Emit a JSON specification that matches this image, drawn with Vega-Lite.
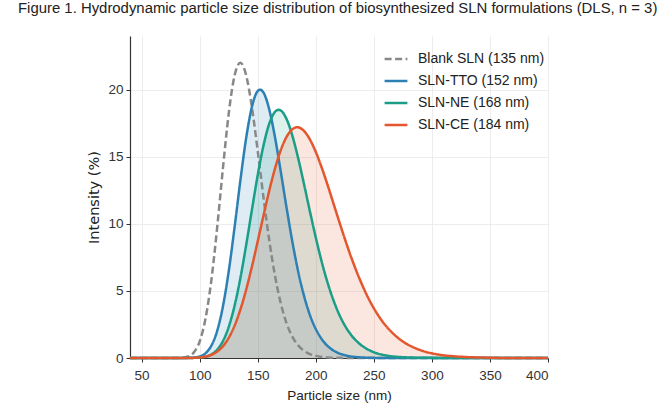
{
  "$schema": "https://vega.github.io/schema/vega-lite/v6.json",
  "width": 418,
  "height": 322,
  "autosize": {"type": "none"},
  "padding": {"left": 130, "top": 36, "right": 110, "bottom": 56},
  "background": "white",
  "title": {
    "text": "Figure 1. Hydrodynamic particle size distribution of biosynthesized SLN formulations (DLS, n = 3)",
    "anchor": "start",
    "frame": "group",
    "dx": -112,
    "offset": 8,
    "baseline": "alphabetic",
    "font": "Liberation Sans",
    "fontSize": 14.9,
    "fontWeight": "normal",
    "color": "#222222"
  },
  "config": {
    "view": {"stroke": null},
    "axis": {
      "domainColor": "#333333",
      "domainWidth": 1.2,
      "tickColor": "#333333",
      "tickSize": 4,
      "tickWidth": 1,
      "labelColor": "#333333",
      "labelFont": "Liberation Sans",
      "labelFontSize": 13.5,
      "titleColor": "#222222",
      "titleFontWeight": "normal",
      "gridColor": "#e8e8e8",
      "gridWidth": 0.8
    },
    "legend": {
      "labelFont": "Liberation Sans",
      "labelFontSize": 14,
      "labelColor": "#222222"
    }
  },
  "datasets": {
    "dls": [
      {"f": "Blank SLN (135 nm)", "x": 40, "y": 0},
      {"f": "Blank SLN (135 nm)", "x": 60, "y": 0},
      {"f": "Blank SLN (135 nm)", "x": 80, "y": 0},
      {"f": "Blank SLN (135 nm)", "x": 85, "y": 0.02},
      {"f": "Blank SLN (135 nm)", "x": 90, "y": 0.11},
      {"f": "Blank SLN (135 nm)", "x": 95, "y": 0.42},
      {"f": "Blank SLN (135 nm)", "x": 100, "y": 1.23},
      {"f": "Blank SLN (135 nm)", "x": 105, "y": 2.92},
      {"f": "Blank SLN (135 nm)", "x": 110, "y": 5.75},
      {"f": "Blank SLN (135 nm)", "x": 115, "y": 9.66},
      {"f": "Blank SLN (135 nm)", "x": 120, "y": 14.11},
      {"f": "Blank SLN (135 nm)", "x": 125, "y": 18.2},
      {"f": "Blank SLN (135 nm)", "x": 127.5, "y": 19.82},
      {"f": "Blank SLN (135 nm)", "x": 130, "y": 21.02},
      {"f": "Blank SLN (135 nm)", "x": 132.5, "y": 21.76},
      {"f": "Blank SLN (135 nm)", "x": 135, "y": 22},
      {"f": "Blank SLN (135 nm)", "x": 137.5, "y": 21.76},
      {"f": "Blank SLN (135 nm)", "x": 140, "y": 21.09},
      {"f": "Blank SLN (135 nm)", "x": 142.5, "y": 20.03},
      {"f": "Blank SLN (135 nm)", "x": 145, "y": 18.69},
      {"f": "Blank SLN (135 nm)", "x": 150, "y": 15.43},
      {"f": "Blank SLN (135 nm)", "x": 155, "y": 11.95},
      {"f": "Blank SLN (135 nm)", "x": 160, "y": 8.74},
      {"f": "Blank SLN (135 nm)", "x": 165, "y": 6.07},
      {"f": "Blank SLN (135 nm)", "x": 170, "y": 4.02},
      {"f": "Blank SLN (135 nm)", "x": 175, "y": 2.55},
      {"f": "Blank SLN (135 nm)", "x": 180, "y": 1.56},
      {"f": "Blank SLN (135 nm)", "x": 185, "y": 0.92},
      {"f": "Blank SLN (135 nm)", "x": 190, "y": 0.53},
      {"f": "Blank SLN (135 nm)", "x": 195, "y": 0.29},
      {"f": "Blank SLN (135 nm)", "x": 200, "y": 0.16},
      {"f": "Blank SLN (135 nm)", "x": 205, "y": 0.08},
      {"f": "Blank SLN (135 nm)", "x": 210, "y": 0.04},
      {"f": "Blank SLN (135 nm)", "x": 220, "y": 0.01},
      {"f": "Blank SLN (135 nm)", "x": 240, "y": 0},
      {"f": "Blank SLN (135 nm)", "x": 300, "y": 0},
      {"f": "Blank SLN (135 nm)", "x": 400, "y": 0},

      {"f": "SLN-TTO (152 nm)", "x": 40, "y": 0},
      {"f": "SLN-TTO (152 nm)", "x": 80, "y": 0},
      {"f": "SLN-TTO (152 nm)", "x": 90, "y": 0.01},
      {"f": "SLN-TTO (152 nm)", "x": 95, "y": 0.03},
      {"f": "SLN-TTO (152 nm)", "x": 100, "y": 0.11},
      {"f": "SLN-TTO (152 nm)", "x": 105, "y": 0.35},
      {"f": "SLN-TTO (152 nm)", "x": 110, "y": 0.91},
      {"f": "SLN-TTO (152 nm)", "x": 115, "y": 2.0},
      {"f": "SLN-TTO (152 nm)", "x": 120, "y": 3.83},
      {"f": "SLN-TTO (152 nm)", "x": 125, "y": 6.45},
      {"f": "SLN-TTO (152 nm)", "x": 130, "y": 9.7},
      {"f": "SLN-TTO (152 nm)", "x": 135, "y": 13.19},
      {"f": "SLN-TTO (152 nm)", "x": 140, "y": 16.37},
      {"f": "SLN-TTO (152 nm)", "x": 145, "y": 18.72},
      {"f": "SLN-TTO (152 nm)", "x": 150, "y": 19.9},
      {"f": "SLN-TTO (152 nm)", "x": 152, "y": 20},
      {"f": "SLN-TTO (152 nm)", "x": 155, "y": 19.78},
      {"f": "SLN-TTO (152 nm)", "x": 160, "y": 18.5},
      {"f": "SLN-TTO (152 nm)", "x": 165, "y": 16.39},
      {"f": "SLN-TTO (152 nm)", "x": 170, "y": 13.81},
      {"f": "SLN-TTO (152 nm)", "x": 175, "y": 11.12},
      {"f": "SLN-TTO (152 nm)", "x": 180, "y": 8.58},
      {"f": "SLN-TTO (152 nm)", "x": 185, "y": 6.38},
      {"f": "SLN-TTO (152 nm)", "x": 190, "y": 4.59},
      {"f": "SLN-TTO (152 nm)", "x": 195, "y": 3.19},
      {"f": "SLN-TTO (152 nm)", "x": 200, "y": 2.16},
      {"f": "SLN-TTO (152 nm)", "x": 205, "y": 1.42},
      {"f": "SLN-TTO (152 nm)", "x": 210, "y": 0.91},
      {"f": "SLN-TTO (152 nm)", "x": 215, "y": 0.57},
      {"f": "SLN-TTO (152 nm)", "x": 220, "y": 0.35},
      {"f": "SLN-TTO (152 nm)", "x": 225, "y": 0.21},
      {"f": "SLN-TTO (152 nm)", "x": 230, "y": 0.12},
      {"f": "SLN-TTO (152 nm)", "x": 235, "y": 0.07},
      {"f": "SLN-TTO (152 nm)", "x": 240, "y": 0.04},
      {"f": "SLN-TTO (152 nm)", "x": 250, "y": 0.01},
      {"f": "SLN-TTO (152 nm)", "x": 270, "y": 0},
      {"f": "SLN-TTO (152 nm)", "x": 400, "y": 0},

      {"f": "SLN-NE (168 nm)", "x": 40, "y": 0},
      {"f": "SLN-NE (168 nm)", "x": 90, "y": 0},
      {"f": "SLN-NE (168 nm)", "x": 95, "y": 0.01},
      {"f": "SLN-NE (168 nm)", "x": 100, "y": 0.03},
      {"f": "SLN-NE (168 nm)", "x": 105, "y": 0.1},
      {"f": "SLN-NE (168 nm)", "x": 110, "y": 0.26},
      {"f": "SLN-NE (168 nm)", "x": 115, "y": 0.61},
      {"f": "SLN-NE (168 nm)", "x": 120, "y": 1.25},
      {"f": "SLN-NE (168 nm)", "x": 125, "y": 2.31},
      {"f": "SLN-NE (168 nm)", "x": 130, "y": 3.87},
      {"f": "SLN-NE (168 nm)", "x": 135, "y": 5.93},
      {"f": "SLN-NE (168 nm)", "x": 140, "y": 8.39},
      {"f": "SLN-NE (168 nm)", "x": 145, "y": 11.04},
      {"f": "SLN-NE (168 nm)", "x": 150, "y": 13.63},
      {"f": "SLN-NE (168 nm)", "x": 155, "y": 15.85},
      {"f": "SLN-NE (168 nm)", "x": 160, "y": 17.48},
      {"f": "SLN-NE (168 nm)", "x": 165, "y": 18.36},
      {"f": "SLN-NE (168 nm)", "x": 168, "y": 18.5},
      {"f": "SLN-NE (168 nm)", "x": 170, "y": 18.44},
      {"f": "SLN-NE (168 nm)", "x": 175, "y": 17.78},
      {"f": "SLN-NE (168 nm)", "x": 180, "y": 16.52},
      {"f": "SLN-NE (168 nm)", "x": 185, "y": 14.83},
      {"f": "SLN-NE (168 nm)", "x": 190, "y": 12.91},
      {"f": "SLN-NE (168 nm)", "x": 195, "y": 10.91},
      {"f": "SLN-NE (168 nm)", "x": 200, "y": 8.98},
      {"f": "SLN-NE (168 nm)", "x": 205, "y": 7.21},
      {"f": "SLN-NE (168 nm)", "x": 210, "y": 5.66},
      {"f": "SLN-NE (168 nm)", "x": 215, "y": 4.36},
      {"f": "SLN-NE (168 nm)", "x": 220, "y": 3.28},
      {"f": "SLN-NE (168 nm)", "x": 225, "y": 2.43},
      {"f": "SLN-NE (168 nm)", "x": 230, "y": 1.77},
      {"f": "SLN-NE (168 nm)", "x": 235, "y": 1.27},
      {"f": "SLN-NE (168 nm)", "x": 240, "y": 0.9},
      {"f": "SLN-NE (168 nm)", "x": 245, "y": 0.63},
      {"f": "SLN-NE (168 nm)", "x": 250, "y": 0.43},
      {"f": "SLN-NE (168 nm)", "x": 255, "y": 0.29},
      {"f": "SLN-NE (168 nm)", "x": 260, "y": 0.2},
      {"f": "SLN-NE (168 nm)", "x": 265, "y": 0.13},
      {"f": "SLN-NE (168 nm)", "x": 270, "y": 0.09},
      {"f": "SLN-NE (168 nm)", "x": 280, "y": 0.04},
      {"f": "SLN-NE (168 nm)", "x": 290, "y": 0.02},
      {"f": "SLN-NE (168 nm)", "x": 300, "y": 0.01},
      {"f": "SLN-NE (168 nm)", "x": 320, "y": 0},
      {"f": "SLN-NE (168 nm)", "x": 400, "y": 0},

      {"f": "SLN-CE (184 nm)", "x": 40, "y": 0},
      {"f": "SLN-CE (184 nm)", "x": 90, "y": 0},
      {"f": "SLN-CE (184 nm)", "x": 95, "y": 0.01},
      {"f": "SLN-CE (184 nm)", "x": 100, "y": 0.04},
      {"f": "SLN-CE (184 nm)", "x": 105, "y": 0.1},
      {"f": "SLN-CE (184 nm)", "x": 110, "y": 0.23},
      {"f": "SLN-CE (184 nm)", "x": 115, "y": 0.47},
      {"f": "SLN-CE (184 nm)", "x": 120, "y": 0.87},
      {"f": "SLN-CE (184 nm)", "x": 125, "y": 1.5},
      {"f": "SLN-CE (184 nm)", "x": 130, "y": 2.39},
      {"f": "SLN-CE (184 nm)", "x": 135, "y": 3.59},
      {"f": "SLN-CE (184 nm)", "x": 140, "y": 5.08},
      {"f": "SLN-CE (184 nm)", "x": 145, "y": 6.81},
      {"f": "SLN-CE (184 nm)", "x": 150, "y": 8.7},
      {"f": "SLN-CE (184 nm)", "x": 155, "y": 10.63},
      {"f": "SLN-CE (184 nm)", "x": 160, "y": 12.5},
      {"f": "SLN-CE (184 nm)", "x": 165, "y": 14.16},
      {"f": "SLN-CE (184 nm)", "x": 170, "y": 15.53},
      {"f": "SLN-CE (184 nm)", "x": 175, "y": 16.51},
      {"f": "SLN-CE (184 nm)", "x": 180, "y": 17.06},
      {"f": "SLN-CE (184 nm)", "x": 184, "y": 17.2},
      {"f": "SLN-CE (184 nm)", "x": 190, "y": 16.91},
      {"f": "SLN-CE (184 nm)", "x": 195, "y": 16.28},
      {"f": "SLN-CE (184 nm)", "x": 200, "y": 15.36},
      {"f": "SLN-CE (184 nm)", "x": 205, "y": 14.22},
      {"f": "SLN-CE (184 nm)", "x": 210, "y": 12.94},
      {"f": "SLN-CE (184 nm)", "x": 215, "y": 11.58},
      {"f": "SLN-CE (184 nm)", "x": 220, "y": 10.22},
      {"f": "SLN-CE (184 nm)", "x": 225, "y": 8.89},
      {"f": "SLN-CE (184 nm)", "x": 230, "y": 7.63},
      {"f": "SLN-CE (184 nm)", "x": 235, "y": 6.48},
      {"f": "SLN-CE (184 nm)", "x": 240, "y": 5.44},
      {"f": "SLN-CE (184 nm)", "x": 245, "y": 4.51},
      {"f": "SLN-CE (184 nm)", "x": 250, "y": 3.71},
      {"f": "SLN-CE (184 nm)", "x": 255, "y": 3.02},
      {"f": "SLN-CE (184 nm)", "x": 260, "y": 2.44},
      {"f": "SLN-CE (184 nm)", "x": 265, "y": 1.96},
      {"f": "SLN-CE (184 nm)", "x": 270, "y": 1.56},
      {"f": "SLN-CE (184 nm)", "x": 275, "y": 1.23},
      {"f": "SLN-CE (184 nm)", "x": 280, "y": 0.97},
      {"f": "SLN-CE (184 nm)", "x": 285, "y": 0.76},
      {"f": "SLN-CE (184 nm)", "x": 290, "y": 0.59},
      {"f": "SLN-CE (184 nm)", "x": 295, "y": 0.45},
      {"f": "SLN-CE (184 nm)", "x": 300, "y": 0.35},
      {"f": "SLN-CE (184 nm)", "x": 310, "y": 0.2},
      {"f": "SLN-CE (184 nm)", "x": 320, "y": 0.12},
      {"f": "SLN-CE (184 nm)", "x": 330, "y": 0.07},
      {"f": "SLN-CE (184 nm)", "x": 340, "y": 0.04},
      {"f": "SLN-CE (184 nm)", "x": 350, "y": 0.02},
      {"f": "SLN-CE (184 nm)", "x": 370, "y": 0},
      {"f": "SLN-CE (184 nm)", "x": 400, "y": 0}
    ]
  },
  "data": {"name": "dls"},
  "encoding": {
    "x": {
      "field": "x",
      "type": "quantitative",
      "scale": {"domain": [40, 400], "nice": false, "zero": false},
      "axis": {
        "title": "Particle size (nm)",
        "values": [50, 100, 150, 200, 250, 300, 350, 400],
        "labelPadding": 6,
        "titlePadding": 7,
        "titleFont": "Liberation Sans",
        "titleFontSize": 13.5
      }
    },
    "y": {
      "field": "y",
      "type": "quantitative",
      "stack": null,
      "scale": {"domain": [0, 24], "nice": false},
      "axis": {
        "title": "Intensity (%)",
        "values": [0, 5, 10, 15, 20],
        "labelPadding": 3,
        "titlePadding": 6,
        "titleFont": "DejaVu Sans",
        "titleFontSize": 14.5
      }
    },
    "color": {
      "field": "f",
      "type": "nominal",
      "sort": null,
      "scale": {
        "domain": ["Blank SLN (135 nm)", "SLN-TTO (152 nm)", "SLN-NE (168 nm)", "SLN-CE (184 nm)"],
        "range": ["#888888", "#2c80b4", "#1a9e87", "#e4572e"]
      },
      "legend": {
        "title": null,
        "orient": "none",
        "legendX": 253,
        "legendY": 10,
        "padding": 0,
        "rowPadding": 2,
        "symbolType": "stroke",
        "symbolSize": 520,
        "symbolStrokeWidth": 2.5,
        "symbolOpacity": 1,
        "labelOffset": 9
      }
    }
  },
  "layer": [
    {
      "transform": [{"filter": "datum.f !== 'Blank SLN (135 nm)'"}],
      "mark": {"type": "area", "opacity": 0.15, "interpolate": "monotone"}
    },
    {
      "mark": {"type": "line", "strokeWidth": 2.5, "interpolate": "monotone"},
      "encoding": {
        "strokeDash": {
          "field": "f",
          "type": "nominal",
          "sort": null,
          "scale": {
            "domain": ["Blank SLN (135 nm)", "SLN-TTO (152 nm)", "SLN-NE (168 nm)", "SLN-CE (184 nm)"],
            "range": [[7, 3.5], [1, 0], [1, 0], [1, 0]]
          },
          "legend": {
            "title": null,
            "orient": "none",
            "legendX": 253,
            "legendY": 10,
            "padding": 0,
            "rowPadding": 2,
            "symbolType": "stroke",
            "symbolSize": 520,
            "symbolStrokeWidth": 2.5,
            "symbolOpacity": 1,
            "labelOffset": 9
          }
        }
      }
    }
  ]
}
